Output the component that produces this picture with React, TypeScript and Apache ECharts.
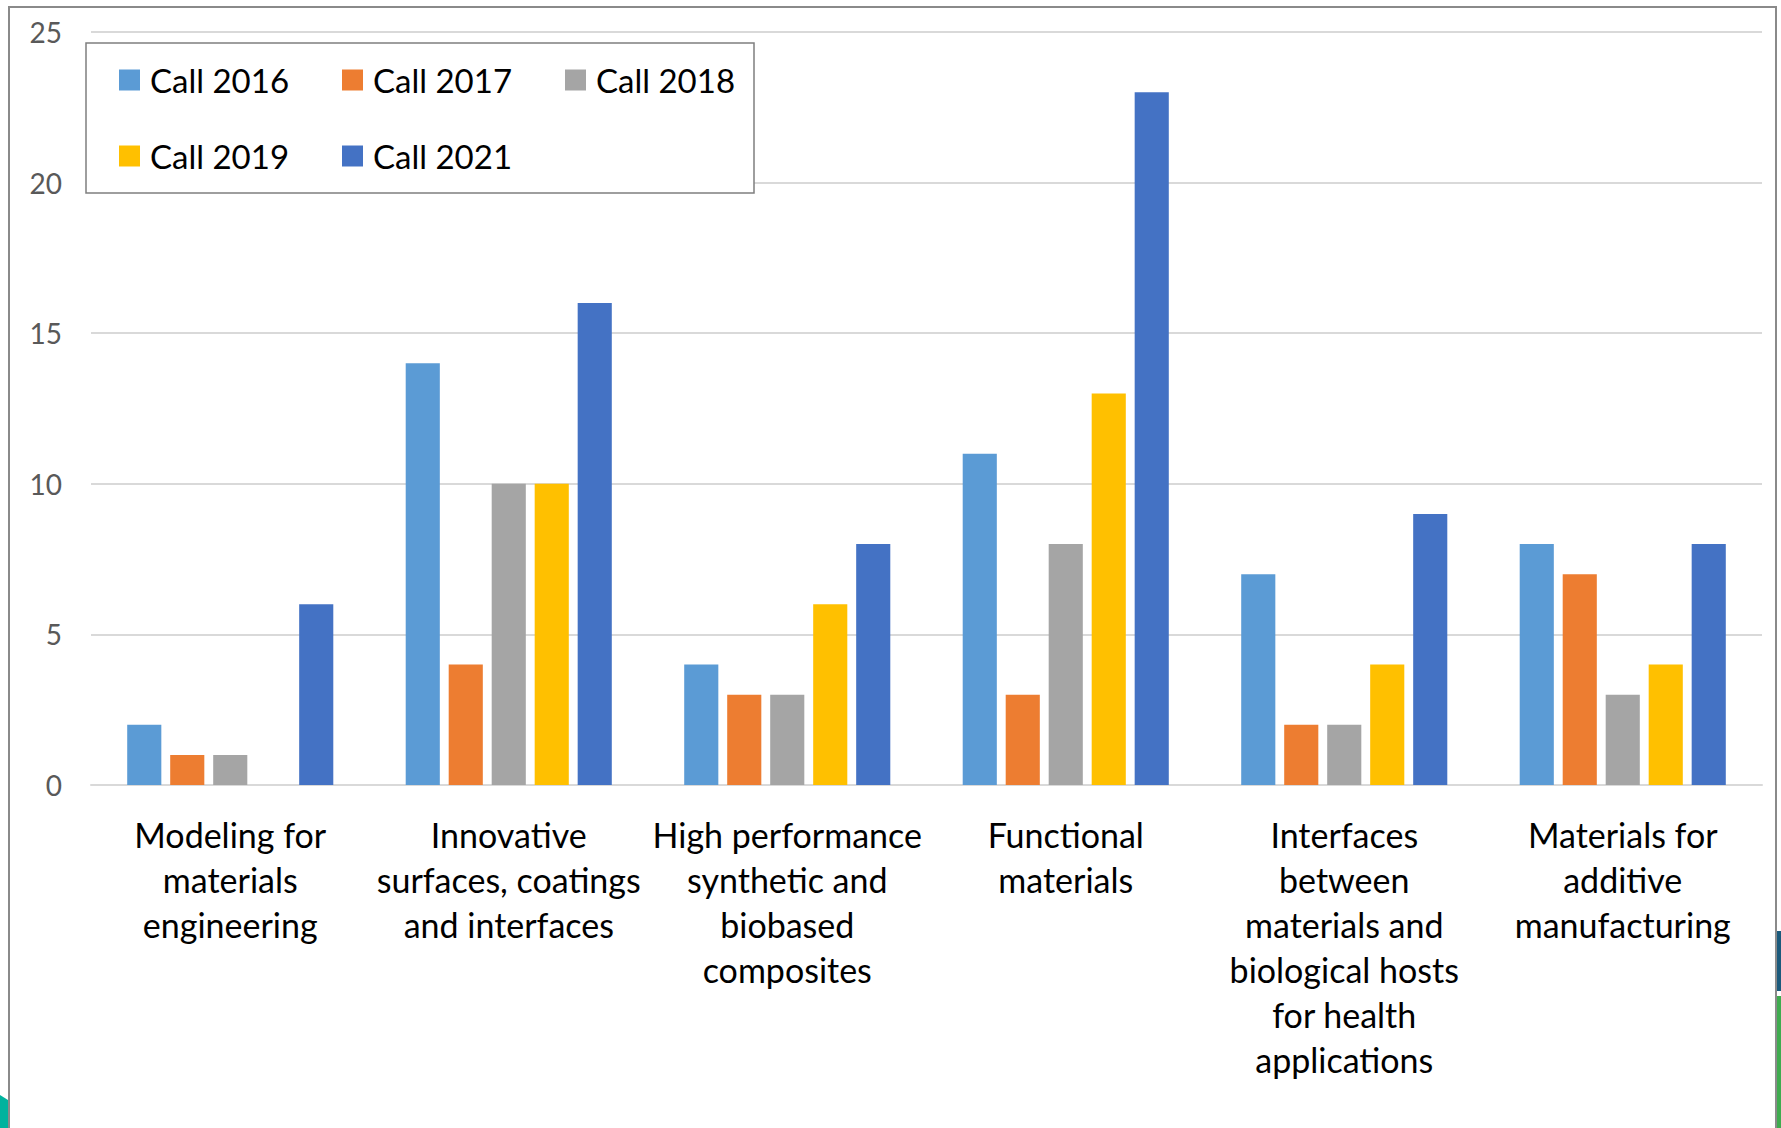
import React, { useEffect, useRef } from "react";
import * as echarts from "echarts";

const categories = [
  "Modeling for\nmaterials\nengineering",
  "Innovative\nsurfaces, coatings\nand interfaces",
  "High performance\nsynthetic and\nbiobased\ncomposites",
  "Functional\nmaterials",
  "Interfaces\nbetween\nmaterials and\nbiological hosts\nfor health\napplications",
  "Materials for\nadditive\nmanufacturing",
];

const seriesNames = ["Call 2016", "Call 2017", "Call 2018", "Call 2019", "Call 2021"];
const call2016 = [2, 14, 4, 11, 7, 8];
const call2017 = [1, 4, 3, 3, 2, 7];
const call2018 = [1, 10, 3, 8, 2, 3];
const call2019 = [0, 10, 6, 13, 4, 4];
const call2021 = [6, 16, 8, 23, 9, 8];
const seriesValues = [call2016, call2017, call2018, call2019, call2021];
const colors = ["#5B9BD5", "#ED7D31", "#A5A5A5", "#FFC000", "#4472C4"];
const yTicks = [0, 5, 10, 15, 20, 25];

const FONT = "Lato, 'Open Sans', sans-serif";

export default function App() {
  const ref = useRef<HTMLDivElement>(null);
  useEffect(() => {
    if (!ref.current) return;
    const chart = echarts.init(ref.current, undefined, { renderer: "svg" });
    chart.setOption({
      animation: false,
      backgroundColor: "#ffffff",
      color: colors,
      textStyle: { fontFamily: FONT },
      graphic: [
        {
          type: "rect",
          shape: { x: 9, y: 7, width: 1767, height: 1140 },
          style: { fill: "none", stroke: "#8a8a8a", lineWidth: 2 },
          silent: true,
          z: 0,
        },
        {
          type: "polygon",
          shape: { points: [[0, 1095], [8, 1100], [8, 1128], [0, 1128]] },
          style: { fill: "#00b39e" },
          silent: true,
        },
        {
          type: "rect",
          shape: { x: 1777, y: 931, width: 4, height: 60 },
          style: { fill: "#1b5a7c" },
          silent: true,
        },
        {
          type: "rect",
          shape: { x: 1777, y: 996, width: 4, height: 132 },
          style: { fill: "#3fab4f" },
          silent: true,
        },
      ],
      legend: {
        left: 86,
        top: 43,
        width: 640,
        orient: "horizontal",
        icon: "rect",
        itemWidth: 21,
        itemHeight: 21,
        itemGap: 42,
        padding: [20, 8, 20, 33],
        borderColor: "#7f7f7f",
        borderWidth: 1.5,
        backgroundColor: "#ffffff",
        data: seriesNames,
        textStyle: {
          fontFamily: FONT,
          fontSize: 33,
          color: "#000000",
          width: 150,
          lineHeight: 34,
          padding: [0, 0, 0, 5],
        },
        z: 10,
      },
      grid: { left: 91, right: 19, top: 32, bottom: 343, containLabel: false },
      xAxis: {
        type: "category",
        data: categories,
        axisLine: { show: true, lineStyle: { color: "#d9d9d9", width: 2 } },
        axisTick: { show: false },
        axisLabel: {
          interval: 0,
          margin: 27,
          fontFamily: FONT,
          fontSize: 34,
          lineHeight: 45,
          color: "#000000",
          align: "center",
        },
      },
      yAxis: {
        type: "value",
        min: yTicks[0],
        max: yTicks[yTicks.length - 1],
        interval: 5,
        axisLine: { show: false },
        axisTick: { show: false },
        splitLine: { lineStyle: { color: "#d9d9d9", width: 2 } },
        axisLabel: {
          margin: 29,
          fontFamily: FONT,
          fontSize: 28,
          color: "#595959",
        },
      },
      series: seriesNames.map((name, i) => ({
        name,
        type: "bar",
        data: seriesValues[i],
        barGap: "26%",
        barCategoryGap: "26%",
        itemStyle: { color: colors[i] },
      })),
    });
    return () => chart.dispose();
  }, []);
  return (
    <div
      ref={ref}
      style={{ position: "absolute", left: 0, top: 0, width: 1781, height: 1128 }}
    />
  );
}
